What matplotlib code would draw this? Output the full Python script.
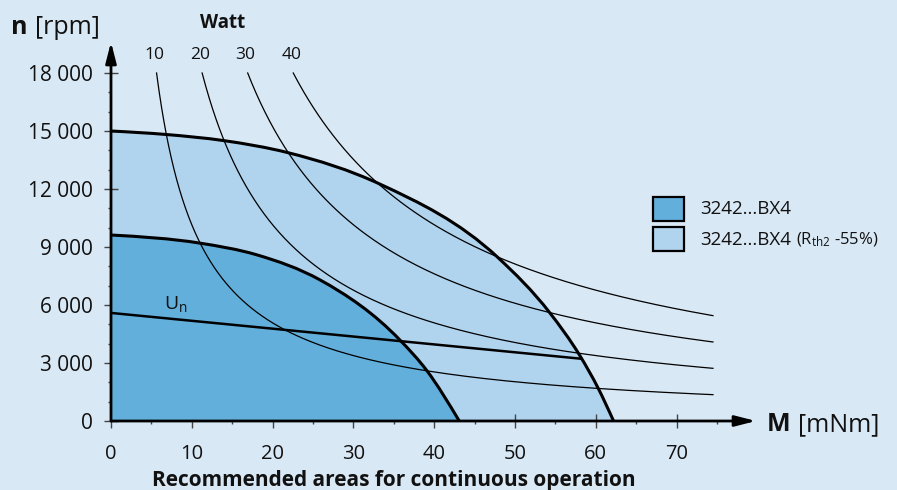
import numpy as np
import matplotlib
matplotlib.use("Agg")
import matplotlib.pyplot as plt
from matplotlib.patches import Rectangle, PathPatch
from matplotlib.path import Path

plt.rcParams['font.family'] = ['Open Sans', 'DejaVu Sans']
plt.rcParams['mathtext.fontset'] = 'custom'
plt.rcParams['mathtext.rm'] = 'Open Sans'
plt.rcParams['mathtext.it'] = 'Open Sans:italic'
plt.rcParams['mathtext.bf'] = 'Open Sans:bold'

# ---------------- data ----------------
outer_M = [0, 6.8, 14.0, 21.9, 33.3, 47.9, 54.3, 58.0, 60.3, 62.2]
outer_n = [15000, 14820, 14500, 13880, 12250, 8450, 5600, 3400, 1690, 0]

inner_M = [0, 11.0, 18.0, 25.9, 35.8, 39.1, 43.1]
inner_n = [9620, 9200, 8600, 7290, 4170, 2600, 0]

un_M = [0, 58.2]
un_n = [5590, 3220]

watt_levels = [10, 20, 30, 40]          # W
watt_const = 10150
watt_n_top = 18000
watt_M_end = 74.5

x_ticks = [0, 10, 20, 30, 40, 50, 60, 70]
y_ticks = [0, 3000, 6000, 9000, 12000, 15000, 18000]
y_tick_labels = ['0', '3 000', '6 000', '9 000', '12 000', '15 000', '18 000']
legend_labels = ['3242...BX4', '3242...BX4']

# ---------------- style ----------------
BG = '#d9e8f5'
LIGHT = '#b0d3ee'
DARK = '#62afdc'

W, H = 897, 490
fig = plt.figure(figsize=(W / 100, H / 100), dpi=100, facecolor=BG)

x0, y0 = 111, 421          # pixel of data origin
x_end, y_end = 756, 42     # arrow tips
ppu_x = 8.08               # px per mNm
ppu_y = 58 / 3000          # px per rpm
ax = fig.add_axes([x0 / W, (H - y0) / H, (x_end - x0) / W, (y0 - y_end) / H])
ax.set_facecolor('none')
ax.set_xlim(0, (x_end - x0) / ppu_x)
ax.set_ylim(0, (y0 - y_end) / ppu_y)
for s in ax.spines.values():
    s.set_visible(False)


def smooth_verts(xs, ys):
    """Smooth (C1 Hermite) curve through the read points, as cubic Bezier segments."""
    x = np.asarray(xs, float)
    y = np.asarray(ys, float)
    h = np.diff(x)
    d = np.diff(y) / h
    m = np.empty_like(x)
    m[1:-1] = (h[:-1] * d[1:] + h[1:] * d[:-1]) / (h[:-1] + h[1:])
    m[0] = min(0.0, 1.5 * d[0] - 0.5 * m[1])
    m[-1] = 1.5 * d[-1] - 0.5 * m[-2]
    verts = [(x[0], y[0])]
    codes = [Path.MOVETO]
    for i in range(len(x) - 1):
        verts += [(x[i] + h[i] / 3, y[i] + m[i] * h[i] / 3),
                  (x[i + 1] - h[i] / 3, y[i + 1] - m[i + 1] * h[i] / 3),
                  (x[i + 1], y[i + 1])]
        codes += [Path.CURVE4] * 3
    return verts, codes


def add_region(xs, ys, color, z):
    v, c = smooth_verts(xs, ys)
    fill_v = v + [(xs[-1], 0), (0, 0), v[0]]
    fill_c = c + [Path.LINETO, Path.LINETO, Path.CLOSEPOLY]
    ax.add_patch(PathPatch(Path(fill_v, fill_c), facecolor=color, edgecolor='none', zorder=z))
    ax.add_patch(PathPatch(Path(v, c), facecolor='none', edgecolor='black', lw=2.2,
                           capstyle='butt', zorder=4))


add_region(outer_M, outer_n, LIGHT, 1)
add_region(inner_M, inner_n, DARK, 2)

# power hyperbolas
for P in watt_levels:
    m0 = P * watt_const / watt_n_top
    M = np.geomspace(m0, watt_M_end, 300)
    ax.plot(M, P * watt_const / M, color='black', lw=0.9, zorder=3)
    ax.annotate(str(P), xy=(m0, watt_n_top), xytext=(-2, 14), textcoords='offset pixels',
                ha='center', va='baseline', fontsize=12.5, color='#111111', annotation_clip=False)

# Un line
ax.plot(un_M, un_n, color='black', lw=1.8, zorder=4)
ax.text(6.5, 5800, r'U$_\mathregular{n}$', fontsize=14, color='#111111', ha='left', va='baseline', zorder=5)

# axes lines with arrows
arrow_kw = dict(arrowstyle='-|>,head_length=1.25,head_width=0.32', color='black', lw=2.0,
                shrinkA=0, shrinkB=0, mutation_scale=10)
ax.annotate('', xy=(1, 0), xytext=(0, 0), xycoords='axes fraction', arrowprops=arrow_kw, zorder=6)
ax.annotate('', xy=(0, 1), xytext=(0, 0), xycoords='axes fraction', arrowprops=arrow_kw, zorder=6)

# ticks
ax.set_xticks(x_ticks)
ax.set_xticklabels([str(v) for v in x_ticks])
ax.set_xticks([5, 15, 25, 35, 45, 55, 65, 75], minor=True)
ax.set_yticks(y_ticks)
ax.set_yticklabels(y_tick_labels)
ax.set_yticks([v for v in range(1000, 18000, 1000) if v % 3000], minor=True)
ax.tick_params(which='major', direction='inout', length=9.5, width=1.0, color='#444444',
               labelsize=15, labelcolor='#111111')
ax.tick_params(axis='y', which='major', pad=8)
ax.tick_params(axis='x', which='major', pad=12, labelsize=14.5)
ax.tick_params(which='minor', direction='out', length=2.5, width=1.0, color='#444444')

# ---------------- texts ----------------
renderer = fig.canvas.get_renderer()


def pieces(items, x, y):
    for s, gap, kw in items:
        x += gap
        t = fig.text(x / W, (H - y) / H, s, ha='left', va='baseline', color='#111111', **kw)
        x += t.get_window_extent(renderer).width


pieces([('n', 0, dict(fontsize=18, fontweight='bold')),
        ('[rpm]', 7, dict(fontsize=18))], 11, 34)
pieces([('M', 0, dict(fontsize=18, fontweight='bold')),
        ('[mNm]', 7, dict(fontsize=18))], 767, 431)

fig.text(223 / W, (H - 28) / H, 'Watt', ha='center', va='baseline', fontsize=13.5,
         fontweight='bold', color='#111111')
fig.text(394 / W, (H - 486) / H, 'Recommended areas for continuous operation', ha='center',
         va='baseline', fontsize=15, fontweight='bold', color='#111111')

# legend (manual)
for i, (col, lab) in enumerate(zip([DARK, LIGHT], legend_labels)):
    top = 197 + i * 30.5
    fig.patches.append(Rectangle((653 / W, (H - top - 24) / H), 31 / W, 24 / H,
                                 transform=fig.transFigure, facecolor=col,
                                 edgecolor='black', lw=1.6))
    items = [(lab, 0, dict(fontsize=13.5))]
    if i == 1:
        items.append((r'(R$_\mathregular{th2}$ -55%)', 5, dict(fontsize=12)))
    pieces(items, 700, top + 17)

fig.savefig('out.png', dpi=100, facecolor=BG)
